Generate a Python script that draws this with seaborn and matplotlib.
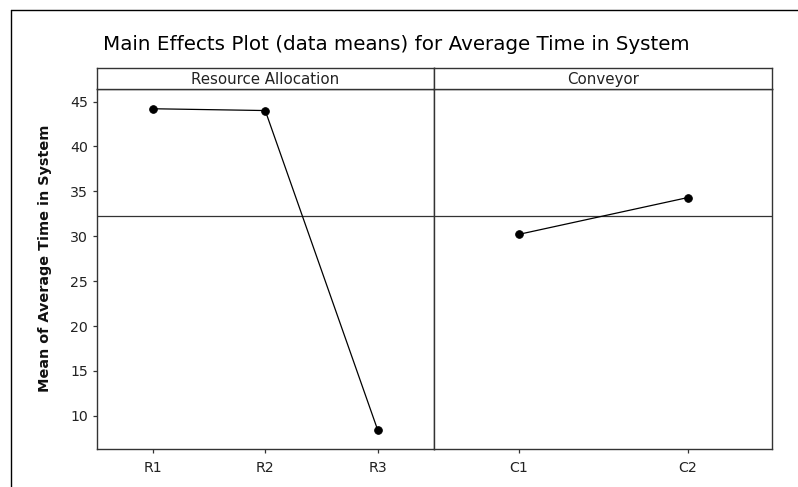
import matplotlib
matplotlib.use("Agg")
import matplotlib.pyplot as plt
from matplotlib.lines import Line2D
import seaborn as sns
import pandas as pd

# ---- data ----
title = "Main Effects Plot (data means) for Average Time in System"
ylabel = "Mean of Average Time in System"
factor_names = ["Resource Allocation", "Conveyor"]
resource_levels = ["R1", "R2", "R3"]
resource_means = [44.2, 44.0, 8.4]
conveyor_levels = ["C1", "C2"]
conveyor_means = [30.2, 34.3]
grand_mean = 32.3
yticks = [10, 15, 20, 25, 30, 35, 40, 45]

sns.set_theme(style="white")
plt.rcParams["font.family"] = ["DejaVu Sans"]

W, H = 798, 487
fig = plt.figure(figsize=(W / 100, H / 100), dpi=100)

def fx(px):
    return px / W

def fy(py):
    return 1 - py / H

plot_top, plot_bot, strip_top = 89, 449, 68
panels = [(96.5, 434), (434, 772)]
datasets = [
    pd.DataFrame({"level": resource_levels, "mean": resource_means}),
    pd.DataFrame({"level": conveyor_levels, "mean": conveyor_means}),
]

edge = "#333333"
tick_fs = 10.2
axes = []
for i, ((x0, x1), df, name) in enumerate(zip(panels, datasets, factor_names)):
    ax = fig.add_axes([fx(x0), fy(plot_bot), fx(x1) - fx(x0), fy(plot_top) - fy(plot_bot)])
    ax.axhline(grand_mean, color=edge, lw=0.9, zorder=1)
    sns.pointplot(data=df, x="level", y="mean", ax=ax, color="black",
                  markers="o", linestyles="-", errorbar=None,
                  markersize=5.5, linewidth=0.9)
    n = len(df)
    ax.set_xlim(-0.5, n - 0.5)
    ax.set_ylim(6.3, 46.4)
    ax.set_xlabel("")
    ax.set_ylabel("")
    for s in ax.spines.values():
        s.set_color(edge)
        s.set_linewidth(1.0)
    ax.tick_params(axis="x", bottom=True, length=3, width=0.9, color=edge,
                   labelsize=tick_fs, labelcolor="#222222", pad=6)
    if i == 0:
        ax.set_yticks(yticks)
        ax.tick_params(axis="y", left=True, length=3, width=0.9, color=edge,
                       labelsize=tick_fs, labelcolor="#222222", pad=3)
    else:
        ax.set_yticks([])
    # strip
    sax = fig.add_axes([fx(x0), fy(plot_top), fx(x1) - fx(x0), fy(strip_top) - fy(plot_top)])
    sax.set_xticks([])
    sax.set_yticks([])
    for s in sax.spines.values():
        s.set_color(edge)
        s.set_linewidth(1.0)
    sax.text(0.5, 0.47, name, ha="center", va="center", fontsize=10.8,
             color="#222222", transform=sax.transAxes)
    axes.append(ax)

fig.text(fx(103), fy(45), title, ha="left", va="center", fontsize=14.3, color="black")
fig.text(fx(45), fy(258.5), ylabel, ha="center", va="center", rotation=90,
         fontsize=10.4, fontweight="bold", color="#111111")

# outer frame (top and left edges visible)
fig.add_artist(Line2D([fx(11), fx(11)], [fy(9.5), 0], color="black", lw=1.0))
fig.add_artist(Line2D([fx(11), 1], [fy(9.5), fy(9.5)], color="black", lw=1.0))

fig.savefig("out.png", dpi=100)
